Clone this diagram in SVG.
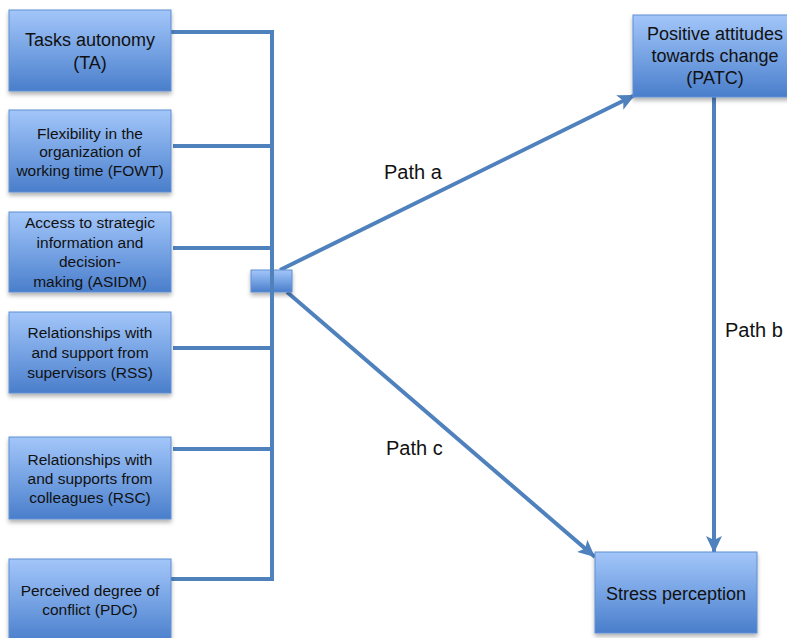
<svg xmlns="http://www.w3.org/2000/svg" width="787" height="638" viewBox="0 0 787 638">
  <defs>
    <linearGradient id="boxGrad" x1="0" y1="0" x2="0" y2="1">
      <stop offset="0" stop-color="#a3c6f9"/>
      <stop offset="0.5" stop-color="#76a3e4"/>
      <stop offset="1" stop-color="#4a7ecb"/>
    </linearGradient>
    <filter id="shadow" x="-10%" y="-10%" width="130%" height="140%">
      <feDropShadow dx="0" dy="3" stdDeviation="2" flood-color="#000" flood-opacity="0.3"/>
    </filter>
    <marker id="arrow" markerUnits="userSpaceOnUse" markerWidth="18" markerHeight="16" refX="17" refY="8" orient="auto">
      <path d="M0,0 L17,8 L0,16 L4,8 Z" fill="#4f81bd"/>
    </marker>
  </defs>
  <style>
    .box { fill: url(#boxGrad); stroke: #5f8fd2; stroke-width: 1; filter: url(#shadow); }
    .t { font-family: "Liberation Sans", Arial, Helvetica, sans-serif; fill: #111; text-anchor: middle; }
    .s { font-size: 15.5px; }
    .l { font-size: 18px; }
    .lbl { font-family: "Liberation Sans", Arial, Helvetica, sans-serif; font-size: 20px; fill: #111; }
    .conn { stroke: #4f81bd; stroke-width: 4; fill: none; }
  </style>

  <g id="connectors">
    <path class="conn" d="M168,32 H272 V579 H171"/>
    <path class="conn" d="M173,146 H272"/>
    <path class="conn" d="M173,248 H272"/>
    <path class="conn" d="M173,348 H272"/>
    <path class="conn" d="M173,449 H272"/>
    <path class="conn" d="M280,270 L635,95" marker-end="url(#arrow)"/>
    <path class="conn" d="M287,292 L595,557" marker-end="url(#arrow)"/>
    <path class="conn" d="M714,97 V553" marker-end="url(#arrow)"/>
  </g>

  <g id="junction">
    <rect class="box" x="251" y="270" width="41" height="22"/>
    <path class="conn" d="M272,262 V300"/>
  </g>

  <g id="TA">
    <rect class="box" x="9" y="10" width="162" height="81"/>
    <text class="t l" x="90" y="46">Tasks autonomy</text>
    <text class="t l" x="90" y="69">(TA)</text>
  </g>
  <g id="FOWT">
    <rect class="box" x="9" y="110" width="162" height="82"/>
    <text class="t s" x="90" y="138.5">Flexibility in the</text>
    <text class="t s" x="90" y="157">organization of</text>
    <text class="t s" x="90" y="175.5">working time (FOWT)</text>
  </g>
  <g id="ASIDM">
    <rect class="box" x="9" y="212" width="162" height="80"/>
    <text class="t s" x="90" y="228">Access to strategic</text>
    <text class="t s" x="90" y="247.5">information and</text>
    <text class="t s" x="90" y="267">decision-</text>
    <text class="t s" x="90" y="286.5">making (ASIDM)</text>
  </g>
  <g id="RSS">
    <rect class="box" x="9" y="312" width="162" height="81"/>
    <text class="t s" x="90" y="338">Relationships with</text>
    <text class="t s" x="90" y="358">and support from</text>
    <text class="t s" x="90" y="377.5">supervisors (RSS)</text>
  </g>
  <g id="RSC">
    <rect class="box" x="9" y="437" width="162" height="82"/>
    <text class="t s" x="90" y="464.5">Relationships with</text>
    <text class="t s" x="90" y="483.5">and supports from</text>
    <text class="t s" x="90" y="502.5">colleagues (RSC)</text>
  </g>
  <g id="PDC">
    <rect class="box" x="9" y="559" width="162" height="84"/>
    <text class="t s" x="90" y="595.5">Perceived degree of</text>
    <text class="t s" x="90" y="614.5">conflict (PDC)</text>
  </g>
  <g id="PATC">
    <rect class="box" x="633" y="15" width="164" height="82"/>
    <text class="t l" x="715" y="39.5">Positive attitudes</text>
    <text class="t l" x="715" y="62">towards change</text>
    <text class="t l" x="715" y="84">(PATC)</text>
  </g>
  <g id="SP">
    <rect class="box" x="595" y="552" width="162" height="81"/>
    <text class="t l" x="676" y="599.5">Stress perception</text>
  </g>

  <g id="labels">
    <text class="lbl" x="384" y="179">Path a</text>
    <text class="lbl" x="725" y="337">Path b</text>
    <text class="lbl" x="386" y="455">Path c</text>
  </g>
</svg>
